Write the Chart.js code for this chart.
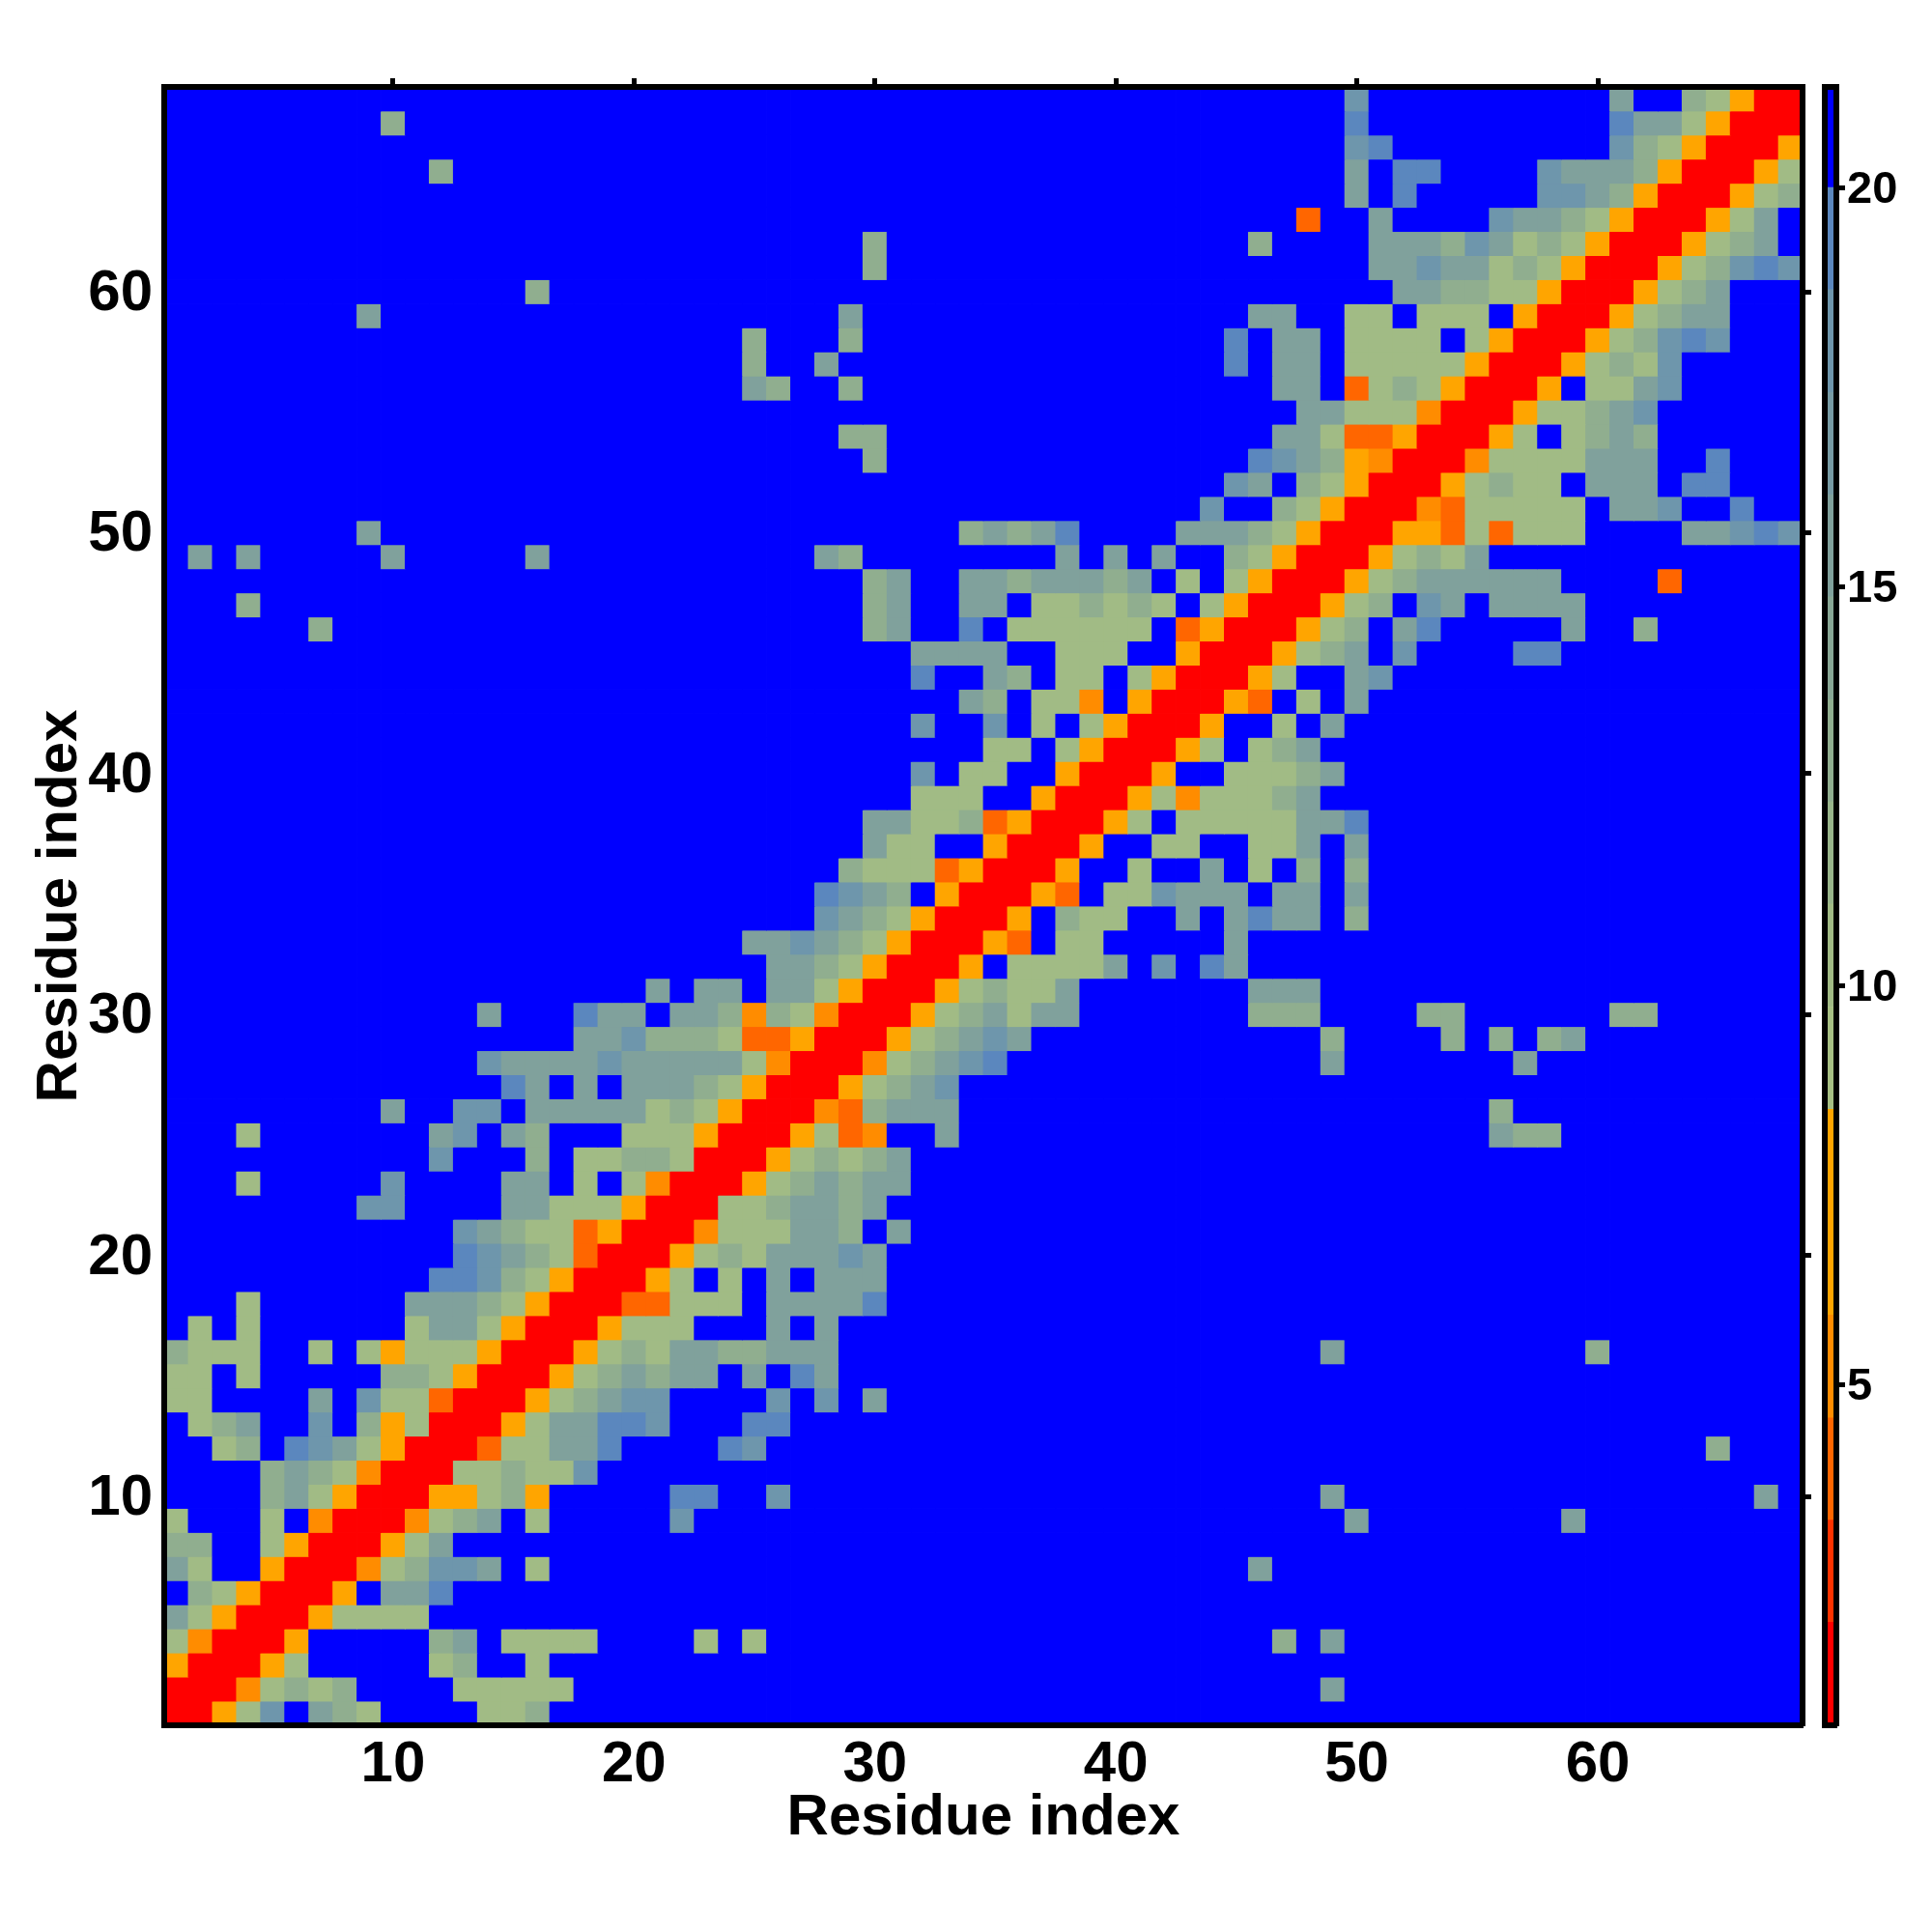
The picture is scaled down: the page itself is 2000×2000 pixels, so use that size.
<!DOCTYPE html>
<html>
<head>
<meta charset="utf-8">
<title>Residue contact map</title>
<script src="https://cdn.jsdelivr.net/npm/chart.js@4/dist/chart.umd.min.js"></script>
<style>
  body { margin: 0; background: #fff; }
  canvas { position: absolute; top: 0; }
  #mapCanvas { left: 0; }
  #barCanvas { left: 1860px; }
</style>
</head>
<body>
<canvas id="mapCanvas" width="2000" height="2000"></canvas>
<canvas id="barCanvas" width="140" height="2000"></canvas>
<script>
const axisTicks = [10, 20, 30, 40, 50, 60];
const barTicks = [5, 10, 15, 20];
const axisTitle = 'Residue index';

// colour key: 16 bins, edges
const binEdges = [0.73, 2.02, 3.3, 4.58, 5.87, 7.15, 8.45, 9.73, 11.02, 12.3, 13.58, 14.87, 16.15, 17.43, 18.72, 20, 21.26];
const binColors = ['#FF0000', '#FF3300', '#FF6600', '#FF8C00', '#FFA500', '#FFA500', '#A6BF83', '#A1BB85', '#98B58A',
  '#90AE8F', '#88A795', '#80A19C', '#779BA4', '#6E96AC', '#5B87BE', '#0000FF'];

// distance estimated per cell, one letter per residue
const cellCodes = ['R', 'E', 'D', 'O', 'S', 'T', 'G', 'H', 'B', '.'];
const cellValues = [1.5, 4, 5.2, 7.5, 10.3, 12.9, 15.5, 18, 19.3, 21];

// row 1 first, columns in groups of ten
const contactRows = [
  'RROSH.GTS. ...SST.... .......... .......... .......... .......... ........',
  'RRRDSTST.. ..SSSSS... .......... .......... ........G. .......... ........',
  'ORRROS.... .ST..S.... .......... .......... .......... .......... ........',
  'SDRRRO.... .TG.SSSS.. ..S.S..... .......... ......T.G. .......... ........',
  'GSORRROSSS S......... .......... .......... .......... .......... ........',
  '.TSORRRO.G GB........ .......... .......... .......... .......... ........',
  'GS..ORRRDS THHG.S.... .......... .......... .....G.... .......... ........',
  'TT..SORRRO SG........ .......... .......... .......... .......... ........',
  'S...S.DRRR DSTG.S.... .H........ .......... .........G ........G. ........',
  '....TGSORR ROOSTO.... .BB..H.... .......... ........G. .......... ......G.',
  '....TGTSDR RRSSTSSH.. .......... .......... .......... .......... ........',
  '..ST.BHGSO RRRESSGGB. ...BH..... .......... .......... .......... ....T...',
  '.STG..H.TO SRRROSGGBB H...BB.... .......... .......... .......... ........',
  'SS....G.HS SERRROSTGH H....H.H.G .......... .......... .......... ........',
  'SS.S.....T TSORRROSTG TGG.G.BG.. .......... .......... .......... ........',
  'TSSS..S.SO SSSORRROST SGGTTGGG.. .......... ........G. .........T ........',
  '.S.S...... SGGSORRROS SS...G.G.. .......... .......... .......... ........',
  '...S...... GGGTSORRRE ESSS.GGGGB .......... .......... .......... ........',
  '.......... .BBHTSORRR OS.S.G.GGG .......... .......... .......... ........',
  '.......... ..BHGTSERR ROSTSGGGHG .......... .......... .......... ........',
  '.......... ..HGTSSEOR RRDSSSGGT. G......... .......... .......... ........',
  '........HH ....GGSSSO RRRSSTGGTG .......... .......... .......... ........',
  '...S.....H ....GG.S.S DRRROSTGTG G......... .......... .......... ........',
  '.......... .H...T.SST TSRRROSTST G......... .......... .......... ........',
  '...S...... .GH.GT...S SSORRROSED ..G....... .......... .....GTT.. ........',
  '.........G ..HH.GGGGG STSORRRDET GGG....... .......... .....T.... ........',
  '.......... ....BG.G.G GGTSORRROS TGH....... .......... .......... ........',
  '.......... ...HGGGGHG GGGGSDRRRD STGHB..... ........G. ......G... ........',
  '.......... .......GGH TTTSEEORRR OSTGHG.... ........T. ...T.T.TG. ........',
  '.......... ...G...BGG .GGTDTSDRR ROSTGSGG.. .....TTT.. ..TT...... TT......',
  '.......... .......... G.GG.GGSOR RROSTSSG.. .....GGG.. .......... ........',
  '.......... .......... .....GGTSO RRRO.SSSSG .H.BG..... .......... ........',
  '.......... .......... ....GGHGTS ORRROE.SS. ....G..... .......... ........',
  '.......... .......... .......HGT SORRRO.TSS ..G.GBGG.T .......... ........',
  '.......... .......... .......BHG T.ORRROE.S SHGGG.GG.G .......... ........',
  '.......... .......... ........TS SSEORRRO.. S..G.S.T.T .......... ........',
  '.......... .......... .........G SS..ORRRO. .SS..SSG.G .......... ........',
  '.......... .......... .........G GSSTEORRRO S.SSSSSGGB .......... ........',
  '.......... .......... .......... .SSS..ORRR OSDSSSTG.. .......... ........',
  '.......... .......... .......... .H.SS..ORR RO..SSSTG. .......... ........',
  '.......... .......... .......... ....SS.SOR RROS.STG.. .......... ........',
  '.......... .......... .......... .H..H.S.SO RRRO..S.G. .......... ........',
  '.......... .......... .......... ...GT.SSD. ORRROE.S.G .......... ........',
  '.......... .......... .......... .B..GT.SS. SORRROS..G H......... ........',
  '.......... .......... .......... .GGGG..SSS ..ORRROSTG .H....BB.. ........',
  '......T... .......... .........T G..B.SSSSS S.EORRROST .GB.....G. .T......',
  '...T...... .......... .........T G..GG.SSTS TS.SORRROS T.HG.GGGG. ........',
  '.......... .......... .........T G..GGTGGGT G.S.SORRRO STGGGGGG.. ..E.....',
  '.G.G.....G .....G.... .......GT. .......G.G .G..TSORRR OSTSG..... ........',
  '........G. .......... .......... ...TGTGB.. ..GGGTSORR ROOESESSS. ...GGHBH',
  '.......... .......... .......... .......... ...H..TSOR RRDESSSSS. GGH..B..',
  '.......... .......... .......... .......... ....HG.TSO RRROSTSS.G GG.BB...',
  '.......... .......... .........T .......... .....BHGTO DRRRDSSSSG GG..B...',
  '.......... .......... ........TT .......... ......GGSE EORRROS.ST GT......',
  '.......... .......... .......... .......... .......GGS SSDRRROSST GH......',
  '.......... .......... ....GT..T. .......... ......GG.E STSORRRO.S SGH.....',
  '.......... .......... ....T..G.. .......... ....B.GG.S SSSSORRROS TSH.....',
  '.......... .......... ....T...T. .......... ....B.GG.S SSS.SORRRO STHBH...',
  '........G. .......... ........G. .......... .....GG..S S.SSS.ORRR OSTGG...',
  '.......... .....T.... .......... .......... .......... .GGTTSSORR ROSTG...',
  '.......... .......... .........T .......... .......... GGHGGSTSOR RROSTHBH',
  '.......... .......... .........T .......... .....T.... GGGTHGSTSO RRROSTG.',
  '.......... .......... .......... .......... .......E.. G....HGGTS ORRROSG.',
  '.......... .......... .......... .......... .........G .B.....HHG TORRROST',
  '.......... .T........ .......... .......... .........G .BB....HGG GTORRROS',
  '.......... .......... .......... .......... .........H B......... HTSORRRO',
  '.........T .......... .......... .......... .........B .......... BGGSORRR',
  '.......... .......... .......... .......... .........H .......... G..TSORR'
];

const AXIS_FONT = { family: '"Liberation Sans", Arial, sans-serif', weight: 'bold', size: 60 };
const BAR_FONT = { family: '"Liberation Sans", Arial, sans-serif', weight: 'bold', size: 47 };
const BORDER_W = 6;
const CELL_RADIUS = 18.2; // 'rect' point: side = radius * sqrt(2), a bit over 25px so no seams show

function colorFor(v) {
  for (let i = 0; i < binColors.length; i++) {
    if (v < binEdges[i + 1]) return binColors[i];
  }
  return binColors[binColors.length - 1];
}

function buildCells() {
  const cells = [];
  contactRows.forEach((line, r) => {
    const codes = line.replace(/ /g, '');
    for (let c = 0; c < codes.length; c++) {
      cells.push({ x: c + 1, y: r + 1, v: cellValues[cellCodes.indexOf(codes[c])] });
    }
  });
  return cells;
}

function setTicks(values) {
  return axis => { axis.ticks = values.map(v => ({ value: v })); };
}

function frameBorder(w) {
  return { display: true, width: w, color: '#000', z: 1 };
}

function makeMap() {
  const cells = buildCells();
  const base = { type: 'linear', min: 0.5, max: 68.5, afterBuildTicks: setTicks(axisTicks) };
  const labelled = {
    maxRotation: 0, autoSkip: false, color: '#000', font: AXIS_FONT,
    callback: v => String(v)
  };
  const marksOnly = { display: true, drawOnChartArea: false, drawTicks: true, tickLength: 9, tickWidth: 5, tickColor: '#000' };

  new Chart(document.getElementById('mapCanvas').getContext('2d'), {
    type: 'scatter',
    data: {
      datasets: [{
        data: cells,
        pointStyle: 'rect',
        pointRadius: CELL_RADIUS,
        pointBorderWidth: 0,
        backgroundColor: cells.map(c => colorFor(c.v))
      }]
    },
    options: {
      responsive: false,
      animation: false,
      events: [],
      plugins: { legend: { display: false }, tooltip: { enabled: false } },
      layout: { padding: 0 },
      scales: {
        x: {
          ...base,
          position: 'bottom',
          afterFit: s => { s.height = 214; },
          grid: { display: false },
          border: frameBorder(BORDER_W),
          ticks: { ...labelled, padding: -3 },
          title: { display: true, text: axisTitle, color: '#000', font: AXIS_FONT, padding: { top: 0, bottom: 82 } }
        },
        y: {
          ...base,
          position: 'left',
          afterFit: s => { s.width = 170; },
          grid: { display: false },
          border: frameBorder(BORDER_W),
          ticks: { ...labelled, padding: 4, labelOffset: 2.5 },
          title: { display: true, text: axisTitle, color: '#000', font: AXIS_FONT, padding: { top: 26, bottom: 0 } }
        },
        xTop: {
          ...base,
          position: 'top',
          afterFit: s => { s.height = 90; },
          grid: marksOnly,
          border: frameBorder(BORDER_W),
          ticks: { display: false }
        },
        yRight: {
          ...base,
          position: 'right',
          afterFit: s => { s.width = 134; },
          grid: marksOnly,
          border: frameBorder(BORDER_W),
          ticks: { display: false }
        }
      }
    }
  });
}

function makeBar() {
  const yBase = { type: 'linear', min: binEdges[0], max: binEdges[binEdges.length - 1] };
  new Chart(document.getElementById('barCanvas').getContext('2d'), {
    type: 'bar',
    data: {
      labels: ['key'],
      datasets: binColors.map((col, i) => ({
        data: [[binEdges[i], binEdges[i + 1]]],
        backgroundColor: col,
        borderWidth: 0,
        grouped: false,
        barPercentage: 1,
        categoryPercentage: 1
      }))
    },
    options: {
      responsive: false,
      animation: false,
      events: [],
      plugins: { legend: { display: false }, tooltip: { enabled: false } },
      layout: { padding: 0 },
      scales: {
        x: {
          position: 'bottom',
          afterFit: s => { s.height = 214; },
          grid: { display: false },
          border: frameBorder(6),
          ticks: { display: false }
        },
        xTop: {
          type: 'linear', min: 0, max: 1,
          position: 'top',
          afterFit: s => { s.height = 90; },
          grid: { display: false },
          border: frameBorder(6),
          ticks: { display: false }
        },
        yLeft: {
          ...yBase,
          position: 'left',
          afterFit: s => { s.width = 29; },
          grid: { display: false },
          border: frameBorder(6),
          ticks: { display: false }
        },
        y: {
          ...yBase,
          position: 'right',
          afterFit: s => { s.width = 99; },
          afterBuildTicks: setTicks(barTicks),
          grid: { display: true, drawOnChartArea: false, drawTicks: true, tickLength: 9, tickWidth: 5, tickColor: '#000' },
          border: frameBorder(6),
          ticks: { color: '#000', font: BAR_FONT, padding: 2, labelOffset: 2.5, autoSkip: false, callback: v => String(v) }
        }
      }
    }
  });
}

makeMap();
makeBar();
</script>
</body>
</html>
